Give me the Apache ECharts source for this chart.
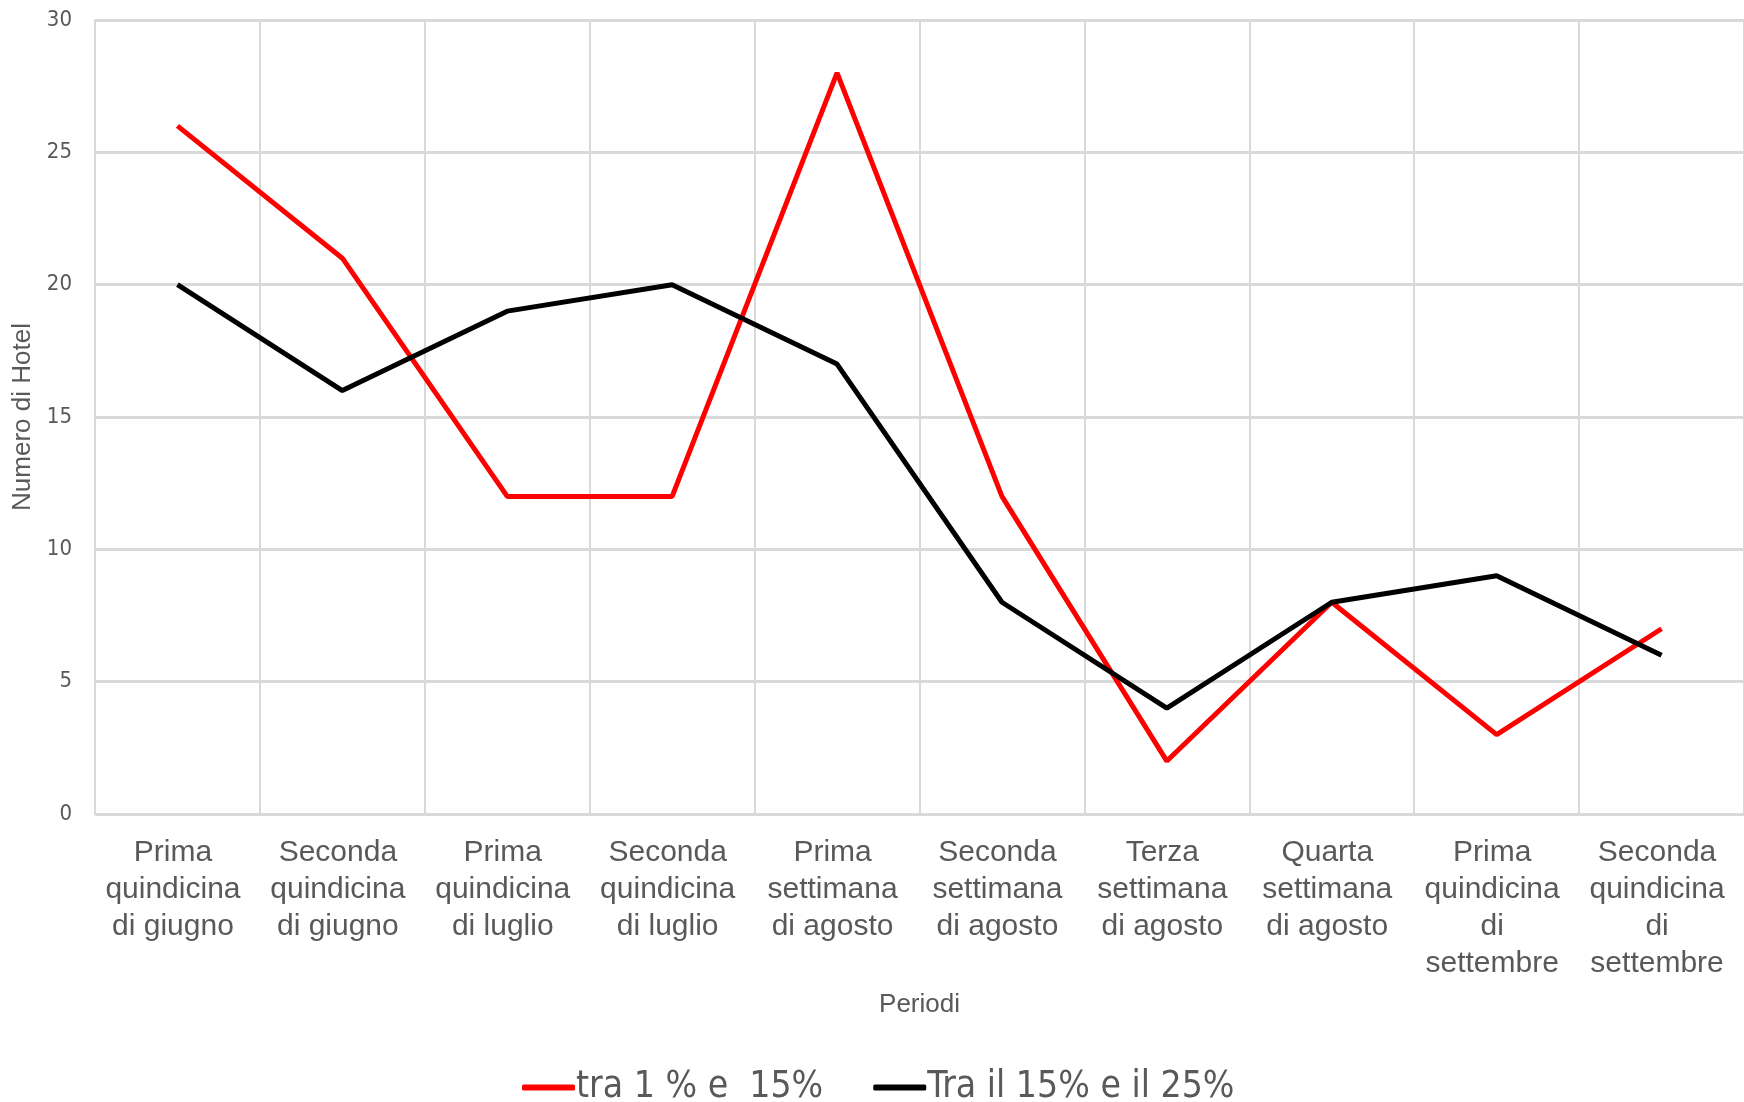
<!DOCTYPE html>
<html>
<head>
<meta charset="utf-8">
<script src="https://cdn.jsdelivr.net/npm/echarts@6/dist/echarts.min.js"></script>
<style>
  html, body { margin: 0; padding: 0; background: #fff; }
  #chart { width: 1744px; height: 1102px; }
</style>
</head>
<body>
<div id="chart"></div>
<script>
var periodi = [
  'Prima\nquindicina\ndi giugno',
  'Seconda\nquindicina\ndi giugno',
  'Prima\nquindicina\ndi luglio',
  'Seconda\nquindicina\ndi luglio',
  'Prima\nsettimana\ndi agosto',
  'Seconda\nsettimana\ndi agosto',
  'Terza\nsettimana\ndi agosto',
  'Quarta\nsettimana\ndi agosto',
  'Prima\nquindicina\ndi\nsettembre',
  'Seconda\nquindicina\ndi\nsettembre'
];
var tra1e15 = [26, 21, 12, 12, 28, 12, 2, 8, 3, 7];
var tra15e25 = [20, 16, 19, 20, 17, 8, 4, 8, 9, 6];
var nomiSerie = ['tra 1 % e  15%', 'Tra il 15% e il 25%'];

var grigio = '#d9d9d9';
var testo = '#595959';
var narrow = '"Liberation Sans Narrow", "DejaVu Sans Condensed", "Liberation Sans", sans-serif';

var chart = echarts.init(document.getElementById('chart'));
chart.setOption({
  animation: false,
  backgroundColor: '#fff',
  grid: { left: 95, right: 0, top: 20, bottom: 288, outerBoundsMode: 'none', containLabel: false },
  legend: {
    left: 517,
    top: 1064,
    icon: 'roundRect',
    itemWidth: 53,
    itemHeight: 6,
    itemGap: 50,
    textStyle: { fontSize: 37, color: testo, fontFamily: narrow, padding: [0, 0, 0, -4] },
    data: nomiSerie
  },
  xAxis: {
    type: 'category',
    data: periodi,
    boundaryGap: true,
    name: 'Periodi',
    nameLocation: 'middle',
    nameGap: 178,
    nameTextStyle: { fontSize: 26, color: testo, fontFamily: 'Liberation Sans' },
    axisLine: { lineStyle: { color: grigio, width: 2 } },
    axisTick: { show: false },
    splitLine: { show: true, lineStyle: { color: grigio, width: 2 } },
    axisLabel: {
      interval: 0,
      margin: 20,
      fontSize: 30,
      lineHeight: 37,
      color: testo,
      fontFamily: 'Liberation Sans',
      verticalAlign: 'top',
      padding: [0, 9, 0, 0]
    }
  },
  yAxis: {
    type: 'value',
    min: 0,
    max: 30,
    interval: 5,
    name: 'Numero di Hotel',
    nameLocation: 'middle',
    nameGap: 57,
    nameRotate: 90,
    nameTextStyle: { fontSize: 26, color: testo, fontFamily: 'Liberation Sans' },
    axisLine: { show: true, lineStyle: { color: grigio, width: 2 } },
    axisTick: { show: false },
    splitLine: { lineStyle: { color: grigio, width: 3 } },
    axisLabel: { fontSize: 22, color: testo, margin: 23, fontFamily: narrow }
  },
  series: [
    {
      name: nomiSerie[0],
      type: 'line',
      data: tra1e15,
      symbol: 'none',
      color: '#ff0000',
      lineStyle: { width: 5, color: '#ff0000' }
    },
    {
      name: nomiSerie[1],
      type: 'line',
      data: tra15e25,
      symbol: 'none',
      color: '#000000',
      lineStyle: { width: 5, color: '#000000' }
    }
  ]
});
</script>
</body>
</html>
